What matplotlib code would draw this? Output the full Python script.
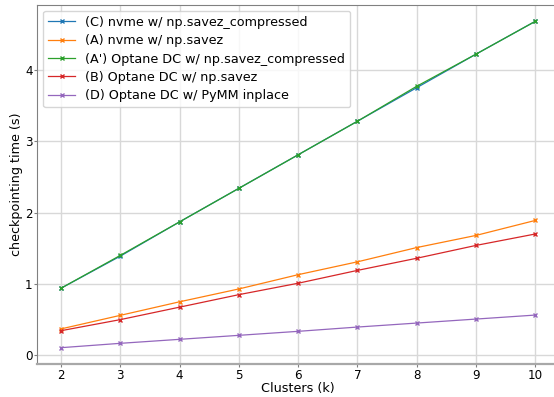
import matplotlib
matplotlib.use("Agg")
import matplotlib.pyplot as plt

clusters = [2, 3, 4, 5, 6, 7, 8, 9, 10]

nvme_compressed = [0.94, 1.39, 1.87, 2.34, 2.81, 3.28, 3.75, 4.22, 4.68]
nvme_savez = [0.37, 0.56, 0.75, 0.93, 1.13, 1.31, 1.51, 1.68, 1.89]
optane_compressed = [0.94, 1.40, 1.87, 2.34, 2.81, 3.28, 3.77, 4.22, 4.68]
optane_savez = [0.345, 0.50, 0.675, 0.85, 1.01, 1.19, 1.36, 1.54, 1.70]
optane_pymm = [0.107, 0.168, 0.224, 0.28, 0.336, 0.396, 0.452, 0.508, 0.564]

labels = ["(C) nvme w/ np.savez_compressed",
          "(A) nvme w/ np.savez",
          "(A') Optane DC w/ np.savez_compressed",
          "(B) Optane DC w/ np.savez",
          "(D) Optane DC w/ PyMM inplace"]
series = [nvme_compressed, nvme_savez, optane_compressed, optane_savez, optane_pymm]
colors = ["#1f77b4", "#ff7f0e", "#2ca02c", "#d62728", "#9467bd"]

fig = plt.figure(figsize=(5.54, 3.97), dpi=100)
ax = fig.add_axes([37.3 / 554, 1 - 364 / 397, (559 - 37.3) / 554, (364 - 5) / 397])

for ys, lab, c in zip(series, labels, colors):
    ax.plot(clusters, ys, marker="x", markersize=3, linewidth=0.9, color=c, label=lab)

ax.grid(True, color="#d8d8d8", linewidth=1)
ax.set_axisbelow(True)
for s in ax.spines.values():
    s.set_color("#808080")
    s.set_linewidth(0.8)
ax.spines["bottom"].set_linewidth(1.6)
ax.spines["bottom"].set_color("#a8a8a8")
ax.tick_params(labelsize=8.6, length=2, pad=1.5, color="#808080")
ax.set_xticks(clusters)
ax.set_xlabel("Clusters (k)", fontsize=9.2, labelpad=0)
ax.set_ylabel("checkpointing time (s)", fontsize=9.2, labelpad=1)
ax.legend(loc="upper left", fontsize=9.2, framealpha=0.8, borderaxespad=0.45,
          handlelength=2.1, labelspacing=0.42)

fig.savefig("out.png", dpi=100)
